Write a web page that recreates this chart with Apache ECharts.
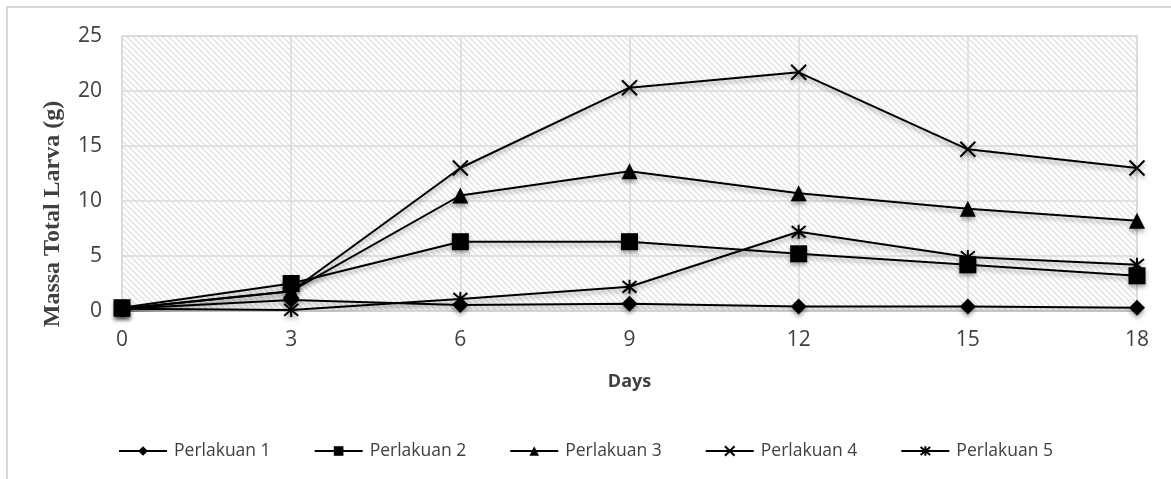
<!DOCTYPE html>
<html>
<head>
<meta charset="utf-8">
<script src="https://cdn.jsdelivr.net/npm/echarts@6/dist/echarts.min.js"></script>
<style>
  html, body { margin: 0; padding: 0; background: #fff; }
  #chart { width: 1171px; height: 479px; }
</style>
</head>
<body>
<div id="chart"></div>
<script>
const days = [0, 3, 6, 9, 12, 15, 18]
const seriesNames = ['Perlakuan 1', 'Perlakuan 2', 'Perlakuan 3', 'Perlakuan 4', 'Perlakuan 5']
const p1 = [0.2, 1.0, 0.55, 0.65, 0.4, 0.4, 0.3]
const p2 = [0.3, 2.5, 6.3, 6.3, 5.2, 4.2, 3.2]
const p3 = [0.2, 1.8, 10.5, 12.7, 10.7, 9.3, 8.2]
const p4 = [0.2, 1.8, 13.0, 20.3, 21.7, 14.7, 13.0]
const p5 = [0.2, 0.1, 1.1, 2.2, 7.2, 4.9, 4.2]
const yTicks = [0, 5, 10, 15, 20, 25]

const crossPath = 'path://M0 0L10 10M10 0L0 10'
const starPath = 'path://M0 0L10 10M10 0L0 10M5 -1L5 11'

// hatch pattern for the plot background
const tile = document.createElement('canvas')
tile.width = 6
tile.height = 6
const tc = tile.getContext('2d')
tc.fillStyle = '#ffffff'
tc.fillRect(0, 0, 6, 6)
tc.strokeStyle = '#e2e2e2'
tc.lineWidth = 1.4
tc.beginPath()
tc.moveTo(-1, -1); tc.lineTo(7, 7)
tc.moveTo(-4, 2); tc.lineTo(4, 10)
tc.moveTo(2, -4); tc.lineTo(10, 4)
tc.stroke()

const pairs = vals => days.map((d, i) => [d, vals[i]])

const shadow = {
    shadowColor: 'rgba(0,0,0,0.35)',
    shadowBlur: 4,
    shadowOffsetY: 3
}

function makeSeries(name, vals, symbol, size, stroked) {
    return {
        name: name,
        type: 'line',
        data: pairs(vals),
        symbol: symbol,
        symbolSize: size,
        showAllSymbol: true,
        lineStyle: Object.assign({ color: '#000', width: 2 }, shadow),
        itemStyle: Object.assign(
            stroked
                ? { color: 'rgba(0,0,0,0)', borderColor: '#000', borderWidth: 2 }
                : { color: '#000', borderWidth: 0 },
            shadow
        ),
        emphasis: { disabled: true },
        z: 3
    }
}

const myChart = echarts.init(document.getElementById('chart'))
myChart.setOption({
    animation: false,
    backgroundColor: '#fff',
    graphic: [{
        type: 'rect',
        shape: { x: 7, y: 7, width: 1300, height: 600 },
        style: { fill: 'none', stroke: '#d9d9d9', lineWidth: 2 },
        silent: true
    }, {
        type: 'text',
        x: 53,
        y: 214,
        rotation: Math.PI / 2,
        style: {
            text: 'Massa Total Larva (g)',
            font: 'bold 24px "Liberation Serif"',
            fill: '#404040',
            align: 'center',
            verticalAlign: 'middle'
        }
    }],
    grid: {
        left: 122,
        right: 34,
        top: 36,
        bottom: 168,
        show: true,
        backgroundColor: { image: tile, repeat: 'repeat' },
        borderColor: '#d9d9d9',
        borderWidth: 1.5
    },
    legend: {
        data: seriesNames,
        left: 'center',
        top: 437,
        itemWidth: 48,
        itemHeight: 12,
        itemGap: 43,
        textStyle: {
            fontFamily: 'Open Sans',
            fontSize: 17.5,
            color: '#404040',
            padding: [0, 0, 0, 2]
        }
    },
    xAxis: {
        type: 'value',
        min: 0,
        max: 18,
        interval: 3,
        name: 'Days',
        nameLocation: 'middle',
        nameGap: 62,
        nameTextStyle: {
            fontFamily: 'Open Sans',
            fontWeight: 'bold',
            fontSize: 18,
            color: '#404040'
        },
        axisLine: { show: false },
        axisTick: { show: false },
        axisLabel: {
            fontFamily: 'Open Sans',
            fontSize: 21,
            color: '#404040',
            margin: 19
        },
        splitLine: { lineStyle: { color: '#d9d9d9', width: 1.5 } }
    },
    yAxis: {
        type: 'value',
        min: yTicks[0],
        max: yTicks[yTicks.length - 1],
        interval: 5,
        axisLine: { show: false },
        axisTick: { show: false },
        axisLabel: {
            fontFamily: 'Open Sans',
            fontSize: 21,
            color: '#404040',
            margin: 20
        },
        splitLine: { lineStyle: { color: '#d9d9d9', width: 1.5 } }
    },
    series: [
        makeSeries(seriesNames[0], p1, 'diamond', 16, false),
        makeSeries(seriesNames[1], p2, 'rect', 17, false),
        makeSeries(seriesNames[2], p3, 'triangle', 16, false),
        makeSeries(seriesNames[3], p4, crossPath, 15, true),
        makeSeries(seriesNames[4], p5, starPath, 14, true)
    ]
})
</script>
</body>
</html>
